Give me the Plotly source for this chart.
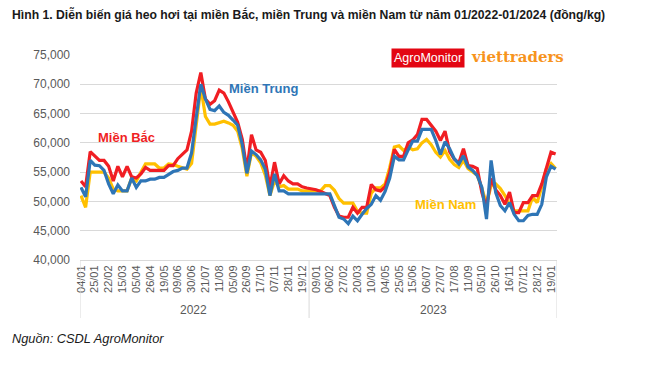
import plotly.graph_objects as go

tick_labels = ["04/01", "25/01", "22/02", "15/03", "05/04", "26/04", "19/05", "09/06", "30/06",
               "21/07", "11/08", "05/09", "26/09", "17/10", "07/11", "28/11", "19/12",
               "09/01", "06/02", "27/02", "20/03", "10/04", "04/05", "25/05", "15/06",
               "06/07", "27/07", "17/08", "11/09", "05/10", "26/10", "16/11", "07/12",
               "28/12", "19/01"]
years = ["2022", "2023"]
year_first_point = [0, 50]

bac = [53500, 52500, 58500, 57800, 57000, 57000, 56000, 53500, 56000, 54200,
       56000, 54200, 54000, 54700, 55800, 55300, 55300, 55300, 55300, 56100,
       56100, 57300, 58000, 58800, 62000, 68500, 72000, 67500, 66600, 67200,
       69000, 68500, 67000, 65300, 63500, 60600, 55400, 61400, 58800, 58400,
       57000, 52500, 56700, 53000, 54400, 53500, 53000, 53000, 52500, 52300,
       52200, 52000, 51700, 51400, 51000, 49000, 47500, 47300, 47300, 49000,
       48000, 49000, 49000, 52900, 52000, 51800, 52500, 55000, 58900, 57700,
       57700, 60000, 60500, 61400, 64000, 64000, 63000, 62000, 60400, 62000,
       58500, 57200, 56600, 59000, 56100, 56000, 55600, 51500, 49000, 53900,
       52000, 51000, 49500, 51600, 48100, 48100, 49800, 49800, 51000, 51000,
       53000, 55800, 58400, 58100]

trung = [52400, 50800, 57000, 56200, 56100, 55300, 53000, 51300, 52800, 51800,
         51800, 54000, 52400, 53500, 53500, 53800, 53800, 54100, 54100, 54600,
         55100, 55300, 55700, 55700, 58300, 64300, 70000, 67500, 65700, 65500,
         66300, 65200, 64700, 63900, 63000, 59700, 54800, 58600, 58000, 57100,
         55500, 51000, 54700, 51800, 51800, 51300, 51300, 51300, 51300, 51300,
         51300, 51300, 51300, 51300, 51300, 49300, 47300, 47000, 46200, 47500,
         46700, 47800, 48800, 49500, 51000, 50200, 51700, 54000, 57700, 57100,
         57100, 58800, 60300, 60300, 62300, 62300, 62300, 60400, 58000, 60200,
         59000, 57300, 56400, 57800, 55900, 55300, 54400, 52400, 47000, 57000,
         51500, 49300, 48400, 49800, 47800, 46700, 46700, 47600, 47800, 47800,
         49500, 54200, 56000, 55500]

nam = [51000, 49000, 55000, 55000, 55000, 55000, 54000, 52100, 51800, 51800,
       51800, 54000, 53500, 55000, 56400, 56400, 56400, 55700, 55700, 56400,
       56300, 56000, 55700, 55500, 56500, 63000, 69500, 64500, 63200, 63200,
       63500, 63700, 63400, 63000, 62000, 59000, 54300, 58300, 57700, 56600,
       54500, 51000, 53500, 52500, 52700, 52100, 52100, 52100, 51800, 51800,
       51800, 51800, 51800, 52700, 52700, 51900, 50500, 49700, 49700, 49700,
       48300, 48000, 48000, 51400, 52300, 52300, 53000, 55800, 59300, 59500,
       58700, 59300, 58800, 59000, 60000, 60600, 59700, 58400, 57600, 58700,
       57200, 56300, 55800, 57000, 55600, 55000, 54500, 52200, 49600, 52700,
       53000, 52200, 51000, 49500, 48400, 48400, 48400, 48400, 50700, 49800,
       52500, 55600, 56500, 55600]

y_ticks = [40000, 45000, 50000, 55000, 60000, 65000, 70000, 75000]

W, H = 650, 366
L, R, T, B = 80, 557, 55, 260
FONT = "Liberation Sans, Arial, sans-serif"


def px(x):
    return (x - L) / (R - L)


def py(y):
    return (B - y) / (B - T)


x_idx = list(range(len(bac)))
fig = go.Figure()
fig.add_trace(go.Scatter(x=x_idx, y=nam, mode="lines", name="Miền Nam",
                         line=dict(color="#FFC000", width=3.2)))
fig.add_trace(go.Scatter(x=x_idx, y=bac, mode="lines", name="Miền Bắc",
                         line=dict(color="#F01E23", width=3.2)))
fig.add_trace(go.Scatter(x=x_idx, y=trung, mode="lines", name="Miền Trung",
                         line=dict(color="#2E75B6", width=3.2)))

x0, x1 = -0.217, 103.3
fig.update_layout(
    width=W, height=H,
    margin=dict(l=L, r=W - R, t=T, b=H - B, pad=0),
    paper_bgcolor="white", plot_bgcolor="white",
    showlegend=False,
    font=dict(family=FONT, color="#595959"),
    xaxis=dict(range=[x0, x1], tickmode="array",
               tickvals=[i * 3 for i in range(len(tick_labels))],
               ticktext=tick_labels, tickangle=-90,
               tickfont=dict(size=11, color="#595959"),
               showgrid=False, zeroline=False, showline=True,
               linecolor="#D9D9D9", linewidth=1, ticks=""),
    yaxis=dict(range=[40000, 75000], tickvals=y_ticks,
               ticktext=[f"{v:,}" for v in y_ticks],
               tickfont=dict(size=12, color="#595959"),
               ticklabelstandoff=9,
               showgrid=True, gridcolor="#D9D9D9", gridwidth=1,
               zeroline=False, showline=False, ticks="", ticklen=0),
)

# year group separators and labels
n = len(bac)
bounds = [x0] + [year_first_point[1] - 0.5] + [x1]
for bx in bounds:
    fig.add_shape(type="line", xref="x", yref="paper", x0=bx, x1=bx,
                  y0=0, y1=py(318), line=dict(color="#D9D9D9", width=1))
for k, yr in enumerate(years):
    start = year_first_point[k] - 0.5
    end = (year_first_point[k + 1] - 0.5) if k + 1 < len(years) else n - 0.5
    fig.add_annotation(x=(start + end) / 2, y=py(310), xref="x", yref="paper",
                       xanchor="center", yanchor="middle",
                       text=yr, showarrow=False,
                       font=dict(size=12, color="#595959"))

# series labels
for txt, cx, cy, col in [("Miền Bắc", 126, 137, "#F01E23"),
                         ("Miền Trung", 263, 88, "#2E75B6"),
                         ("Miền Nam", 445, 204, "#FFC000")]:
    fig.add_annotation(x=px(cx), y=py(cy), xref="paper", yref="paper",
                       xanchor="center", yanchor="middle",
                       text=f"<b>{txt}</b>", showarrow=False,
                       font=dict(size=13, color=col))

# title and source
fig.add_annotation(x=px(10), y=py(14), xref="paper", yref="paper",
                   xanchor="left", yanchor="middle",
                   text="<b>Hình 1. Diễn biến giá heo hơi tại miền Bắc, miền Trung và miền Nam từ năm 01/2022-01/2024 (đồng/kg)</b>",
                   showarrow=False, font=dict(size=12.2, color="#1A1A1A"))
fig.add_annotation(x=px(10), y=py(338), xref="paper", yref="paper",
                   xanchor="left", yanchor="middle",
                   text="<i>Nguồn: CSDL AgroMonitor</i>",
                   showarrow=False, font=dict(size=12.8, color="#1A1A1A"))

# logos
fig.add_annotation(x=px(469), y=py(57), xref="paper", yref="paper",
                   xanchor="left", yanchor="middle",
                   text="<b>viettraders</b>", showarrow=False, bgcolor="white",
                   borderpad=1,
                   font=dict(size=15, color="#F7941D", family="DejaVu Serif, serif"))
fig.add_annotation(x=px(391), y=py(57.5), xref="paper", yref="paper",
                   xanchor="left", yanchor="middle",
                   text="AgroMonitor", showarrow=False, bgcolor="#E30613",
                   borderpad=2,
                   font=dict(size=12.5, color="white", family=FONT))

fig.write_html("out.html", config={"displayModeBar": False},
               post_script="document.body.style.margin='0';")
